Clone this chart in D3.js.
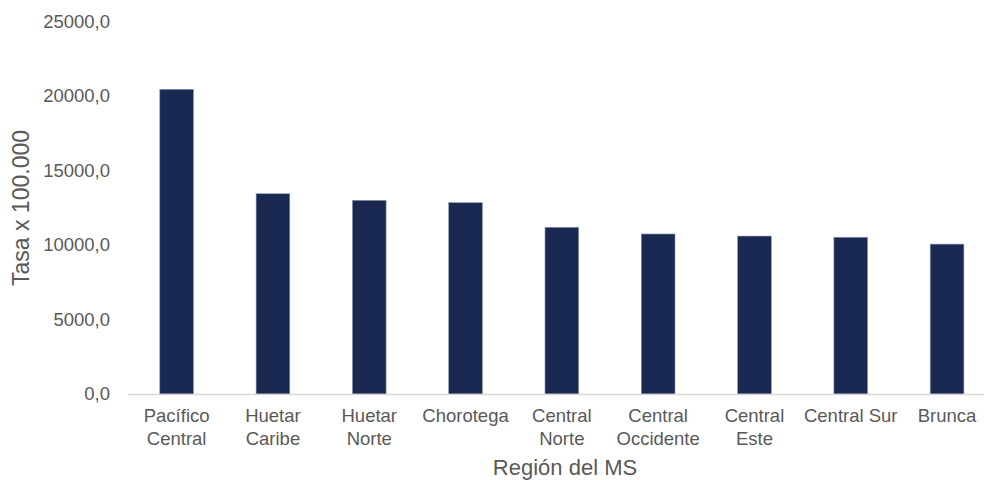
<!DOCTYPE html>
<html>
<head>
<meta charset="utf-8">
<script src="https://cdn.jsdelivr.net/npm/d3@7/dist/d3.min.js"></script>
<style>
  html, body { margin: 0; padding: 0; background: #fff; }
  svg { display: block; font-family: "Liberation Sans", Arial, sans-serif; }
</style>
</head>
<body>
<svg id="chart" width="984" height="480"></svg>
<script>
// Regions of the Ministerio de Salud and their rate per 100,000
const regions = ["Pacífico Central", "Huetar Caribe", "Huetar Norte", "Chorotega", "Central Norte",
                 "Central Occidente", "Central Este", "Central Sur", "Brunca"];
const regionLabelLines = [["Pacífico", "Central"], ["Huetar", "Caribe"], ["Huetar", "Norte"], ["Chorotega"],
                          ["Central", "Norte"], ["Central", "Occidente"], ["Central", "Este"], ["Central Sur"], ["Brunca"]];
const rates = [20450, 13440, 13000, 12840, 11190, 10740, 10600, 10520, 10060];
const yTicks = [0, 5000, 10000, 15000, 20000, 25000];
const yTitle = "Tasa x 100.000";
const xTitle = "Región del MS";

const svg = d3.select("#chart");
const textColor = "#595959";

const x = d3.scaleBand()
  .domain(regions)
  .range([128.5, 995.2])
  .paddingInner(0.65)
  .paddingOuter(0.325);

const y = d3.scaleLinear()
  .domain([0, 25000])
  .range([394, 21.5]);

const fmt = v => d3.format(".1f")(v).replace(".", ",");

// Y axis labels (no line, no ticks)
const yAxis = svg.append("g")
  .attr("transform", "translate(110,0)")
  .call(d3.axisLeft(y).tickValues(yTicks).tickFormat(fmt).tickSize(0).tickPadding(0));
yAxis.select(".domain").remove();
yAxis.selectAll("text")
  .attr("fill", textColor)
  .style("font-size", "18.5px")
  .style("font-family", "'Liberation Sans', Arial, sans-serif");

// Bars
svg.append("g").selectAll("rect")
  .data(regions)
  .join("rect")
  .attr("x", d => x(d))
  .attr("y", (d, i) => y(rates[i]))
  .attr("width", x.bandwidth())
  .attr("height", (d, i) => y(0) - y(rates[i]))
  .attr("fill", "#1a2952")
  .attr("stroke", "#8f99b2")
  .attr("stroke-width", 0.6);

// Baseline
svg.append("line")
  .attr("x1", 128).attr("x2", 984)
  .attr("y1", y(0) + 0.5).attr("y2", y(0) + 0.5)
  .attr("stroke", "#d9d9d9")
  .attr("stroke-width", 1.5);

// Category labels, one or two lines each
const xl = svg.append("g").selectAll("text")
  .data(regions)
  .join("text")
  .attr("text-anchor", "middle")
  .attr("fill", textColor)
  .style("font-size", "18.5px");
xl.each(function(d, i) {
  const t = d3.select(this);
  regionLabelLines[i].forEach((line, j) => {
    t.append("tspan")
      .attr("x", x(d) + x.bandwidth() / 2)
      .attr("y", 422 + j * 23)
      .text(line);
  });
});

// Axis titles
svg.append("text")
  .attr("x", 565)
  .attr("y", 475)
  .attr("text-anchor", "middle")
  .attr("fill", textColor)
  .style("font-size", "22px")
  .text(xTitle);

svg.append("text")
  .attr("transform", "translate(29,208) rotate(-90)")
  .attr("text-anchor", "middle")
  .attr("fill", textColor)
  .style("font-size", "23px")
  .text(yTitle);
</script>
</body>
</html>
